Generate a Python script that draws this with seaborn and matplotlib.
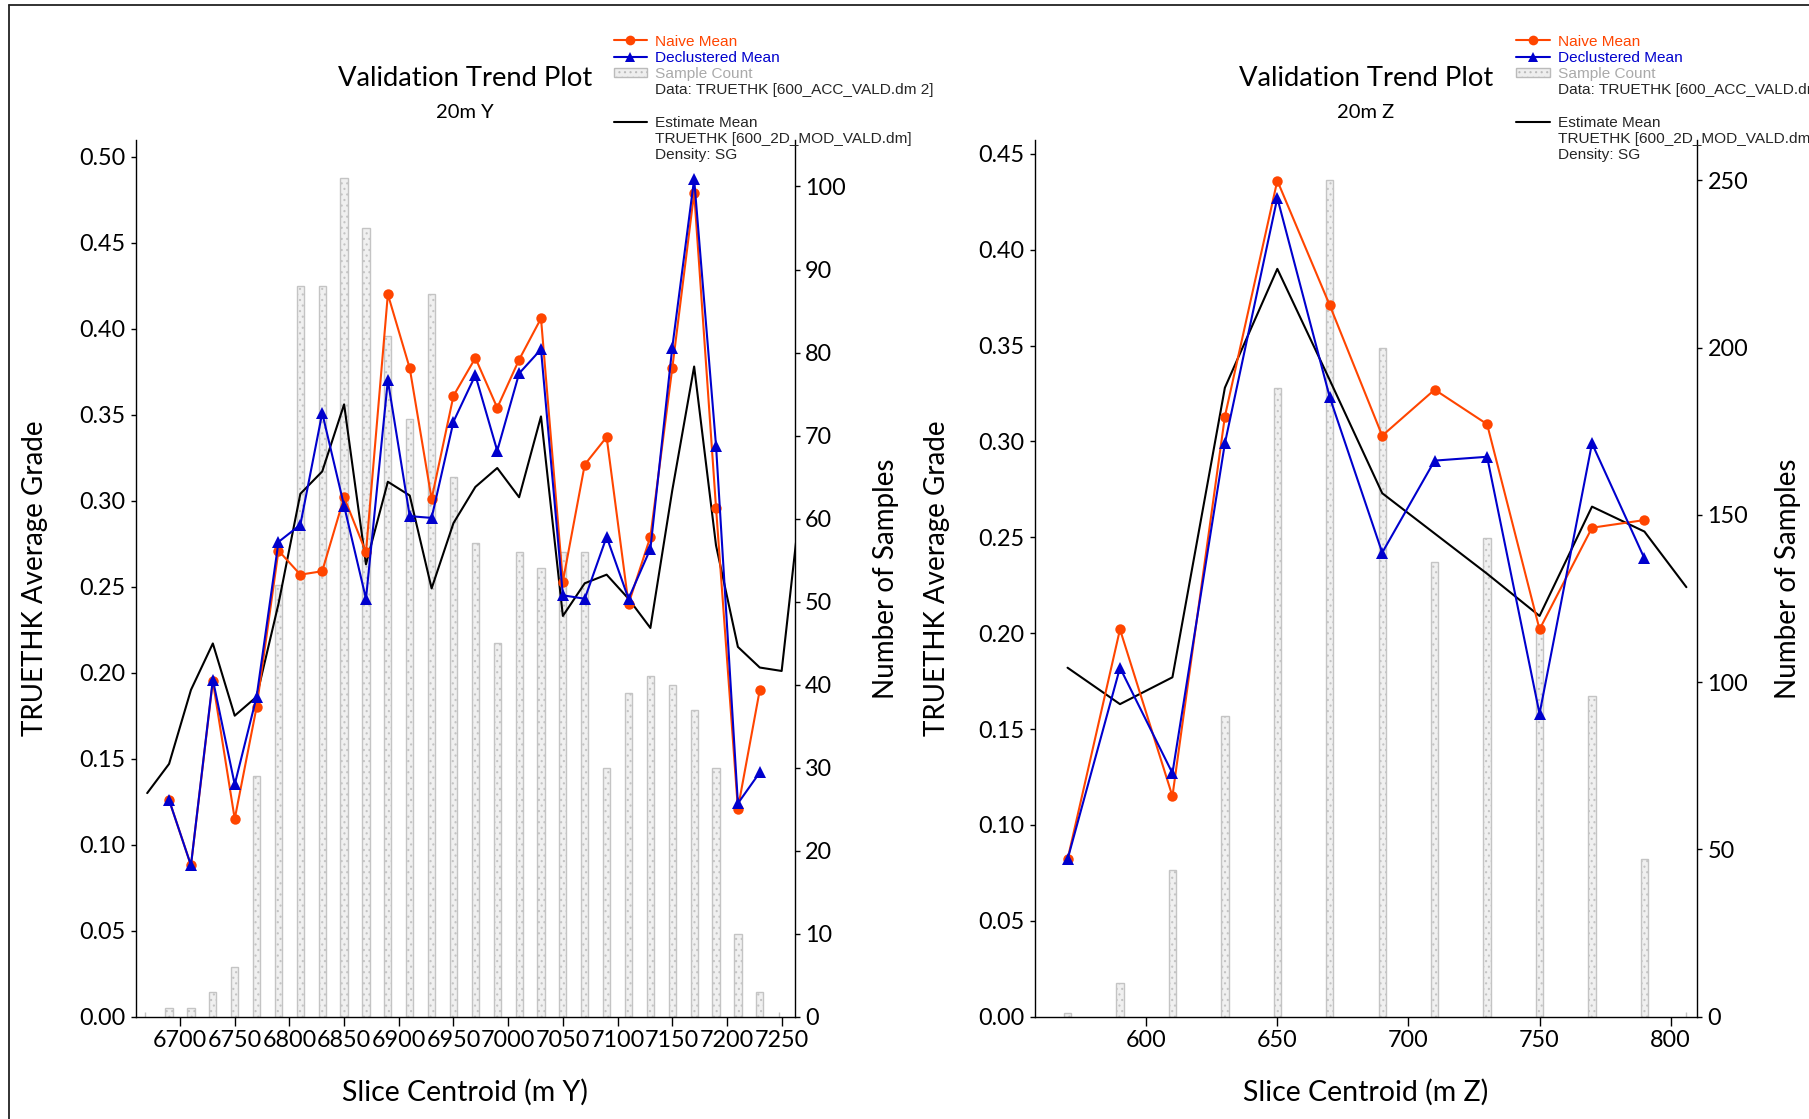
import numpy as np
import pandas as pd
import matplotlib
matplotlib.use("Agg")
import matplotlib.pyplot as plt
import seaborn as sns
from matplotlib.lines import Line2D
from matplotlib.patches import Patch

# ---------------- data: 20m Y slices ----------------
y_centroid = [6690, 6710, 6730, 6750, 6770, 6790, 6810, 6830, 6850, 6870,
              6890, 6910, 6930, 6950, 6970, 6990, 7010, 7030, 7050, 7070,
              7090, 7110, 7130, 7150, 7170, 7190, 7210, 7230]
y_naive = [0.126, 0.088, 0.195, 0.115, 0.180, 0.271, 0.257, 0.259, 0.302, 0.270,
           0.420, 0.377, 0.301, 0.361, 0.383, 0.354, 0.382, 0.406, 0.253, 0.321,
           0.337, 0.240, 0.279, 0.377, 0.479, 0.296, 0.121, 0.190]
y_declust = [0.126, 0.088, 0.196, 0.135, 0.186, 0.276, 0.286, 0.351, 0.297, 0.243,
             0.370, 0.291, 0.290, 0.346, 0.373, 0.329, 0.374, 0.388, 0.245, 0.243,
             0.279, 0.243, 0.272, 0.389, 0.487, 0.332, 0.124, 0.142]
y_count = [1, 1, 3, 6, 29, 52, 88, 88, 101, 95,
           82, 72, 87, 65, 57, 45, 56, 54, 56, 56,
           30, 39, 41, 40, 37, 30, 10, 3]
y_est_x = [6670, 6690, 6710, 6730, 6750, 6770, 6790, 6810, 6830, 6850, 6870,
           6890, 6910, 6930, 6950, 6970, 6990, 7010, 7030, 7050, 7070,
           7090, 7110, 7130, 7150, 7170, 7190, 7210, 7230, 7250, 7270]
y_est = [0.130, 0.147, 0.190, 0.217, 0.175, 0.186, 0.240, 0.304, 0.317, 0.356, 0.263,
         0.311, 0.303, 0.249, 0.287, 0.308, 0.319, 0.302, 0.349, 0.233, 0.252,
         0.257, 0.243, 0.226, 0.306, 0.378, 0.274, 0.215, 0.203, 0.201, 0.315]
y_empty = [6668, 7248]
y_xticks = [6700, 6750, 6800, 6850, 6900, 6950, 7000, 7050, 7100, 7150, 7200, 7250]

# ---------------- data: 20m Z slices ----------------
z_centroid = [570, 590, 610, 630, 650, 670, 690, 710, 730, 750, 770, 790]
z_naive = [0.082, 0.202, 0.115, 0.313, 0.436, 0.371, 0.303, 0.327, 0.309, 0.202, 0.255, 0.259]
z_declust = [0.082, 0.182, 0.127, 0.299, 0.427, 0.323, 0.242, 0.290, 0.292, 0.158, 0.299, 0.239]
z_count = [1, 10, 44, 90, 188, 250, 200, 136, 143, 117, 96, 47]
z_est_x = [570, 590, 610, 630, 650, 670, 690, 710, 730, 750, 770, 790, 806]
z_est = [0.182, 0.163, 0.177, 0.328, 0.390, 0.332, 0.273, 0.252, 0.231, 0.209, 0.266, 0.253, 0.224]
z_empty = [806]
z_xticks = [600, 650, 700, 750, 800]

legend_labels = ["Naive Mean", "Declustered Mean", "Sample Count",
                 "Data: TRUETHK [600_ACC_VALD.dm 2]", " ", "Estimate Mean",
                 "TRUETHK [600_2D_MOD_VALD.dm]", "Density: SG"]

ORANGE = "#FF4500"
BLUE = "#0000CD"

sns.set_theme(style="ticks")
plt.rcParams["font.family"] = ["Lato", "DejaVu Sans"]
plt.rcParams["hatch.color"] = "#a0a0a0"
plt.rcParams["hatch.linewidth"] = 0.8

W, H = 1809, 1119
fig = plt.figure(figsize=(W / 100, H / 100), dpi=100)

# outer frame (left and top edges visible)
fig.add_artist(Line2D([9 / W, 9 / W], [0, 1 - 5 / H], transform=fig.transFigure,
                      color="#222222", lw=1.3))
fig.add_artist(Line2D([9 / W, 1], [1 - 5 / H, 1 - 5 / H], transform=fig.transFigure,
                      color="#222222", lw=1.3))


def panel(x0px, x1px, xc, naive, decl, counts, est_x, est, empty, barw, xlim, ylim, y2lim,
          yticks, y2ticks, xticks, subtitle, xlabel, legx, ylab_x, y2lab_x):
    top, bot = 140, 1016.7
    ax = fig.add_axes([x0px / W, 1 - bot / H, (x1px - x0px) / W, (bot - top) / H])
    ax2 = ax.twinx()
    ax.set_zorder(ax2.get_zorder() + 1)
    ax.patch.set_visible(False)

    dfb = pd.DataFrame({"x": xc, "n": counts})
    sns.barplot(data=dfb, x="x", y="n", native_scale=True, width=barw,
                color="#f0f0f0", saturation=1, edgecolor="#c4c4c4", linewidth=1.0,
                errorbar=None, ax=ax2)
    for p in ax2.patches:
        p.set_hatch("...")
    ax2.vlines(empty, 0, 5 / (bot - top), transform=ax2.get_xaxis_transform(),
               color="#c4c4c4", lw=1.0)

    sns.lineplot(x=est_x, y=est, ax=ax, color="black", lw=1.5, legend=False)
    sns.lineplot(x=xc, y=naive, ax=ax, color=ORANGE, lw=1.5, marker="o",
                 markersize=7.5, markeredgewidth=0, legend=False)
    sns.lineplot(x=xc, y=decl, ax=ax, color=BLUE, lw=1.5, marker="^",
                 markersize=8, markeredgewidth=0, legend=False)

    ax.set_xlim(*xlim)
    ax.set_ylim(*ylim)
    ax2.set_ylim(*y2lim)
    ax.set_xticks(xticks)
    ax.set_xticklabels([str(t) for t in xticks])
    ax.set_yticks(yticks)
    ax.set_yticklabels(["{:.2f}".format(t) for t in yticks])
    ax2.set_yticks(y2ticks)
    ax2.set_yticklabels([str(t) for t in y2ticks])

    for a in (ax, ax2):
        a.spines["top"].set_visible(False)
        for s in a.spines.values():
            s.set_color("black")
            s.set_linewidth(1.0)
    ax.spines["right"].set_visible(False)
    ax2.spines["left"].set_visible(False)
    ax2.spines["bottom"].set_visible(False)

    ax.tick_params(axis="y", direction="out", length=3.6, width=1.0, pad=3.6,
                   labelsize=16.8, colors="black")
    ax.tick_params(axis="x", direction="out", length=6.7, width=1.0, pad=3,
                   labelsize=16.8, colors="black")
    ax2.tick_params(axis="y", direction="out", length=3.6, width=1.0, pad=3.6,
                    labelsize=16.8, colors="black")

    ax.set_xlabel(xlabel, fontsize=20.5, color="black")
    ax.xaxis.label.set_va("center")
    ax.xaxis.set_label_coords(0.5, -0.0865)
    ax.set_ylabel("TRUETHK Average Grade", fontsize=20, color="black")
    ax.yaxis.label.set_va("center")
    ax.yaxis.set_label_coords(ylab_x, 0.5)
    ax2.set_ylabel("Number of Samples", fontsize=20, color="black")
    ax2.yaxis.label.set_va("center")
    ax2.yaxis.set_label_coords(y2lab_x, 0.5)

    cx = (x0px + x1px) / 2 / W
    fig.text(cx, 1 - 78.5 / H, "Validation Trend Plot", ha="center", va="center",
             fontsize=19.7, color="black")
    fig.text(cx, 1 - 113 / H, subtitle, ha="center", va="center",
             fontsize=14.5, color="black")

    handles = [
        Line2D([], [], color=ORANGE, lw=1.5, marker="o", markersize=7, markeredgewidth=0),
        Line2D([], [], color=BLUE, lw=1.5, marker="^", markersize=7.5, markeredgewidth=0),
        Patch(facecolor="#eeeeee", edgecolor="#bbbbbb", hatch="..."),
        Line2D([], [], color="none"),
        Line2D([], [], color="none"),
        Line2D([], [], color="black", lw=1.5),
        Line2D([], [], color="none"),
        Line2D([], [], color="none"),
    ]
    leg = fig.legend(handles, legend_labels, loc="upper left",
                     bbox_to_anchor=(legx / W, 1 - 34.5 / H), frameon=False,
                     prop={"family": "Liberation Sans", "size": 11.1},
                     handlelength=2.2, handletextpad=0.52, labelspacing=0.145,
                     borderpad=0, borderaxespad=0, handleheight=0.55)
    txt = leg.get_texts()
    txt[0].set_color(ORANGE)
    txt[1].set_color(BLUE)
    txt[2].set_color("#aaaaaa")
    return ax, ax2


panel(135.5, 795, y_centroid, y_naive, y_declust, y_count, y_est_x, y_est, y_empty, 0.33,
      (6659.3, 7262.2), (0, 0.5097), (0, 105.6),
      np.round(np.arange(0, 0.501, 0.05), 2), list(range(0, 101, 10)), y_xticks,
      "20m Y", "Slice Centroid (m Y)", 613.5, -0.1524, 1.138)

panel(1034.5, 1697.4, z_centroid, z_naive, z_declust, z_count, z_est_x, z_est, z_empty, 0.14,
      (557.4, 810.2), (0, 0.4572), (0, 262.1),
      np.round(np.arange(0, 0.451, 0.05), 2), list(range(0, 251, 50)), z_xticks,
      "20m Z", "Slice Centroid (m Z)", 1516, -0.147, 1.137)

fig.savefig("out.png", dpi=100)
